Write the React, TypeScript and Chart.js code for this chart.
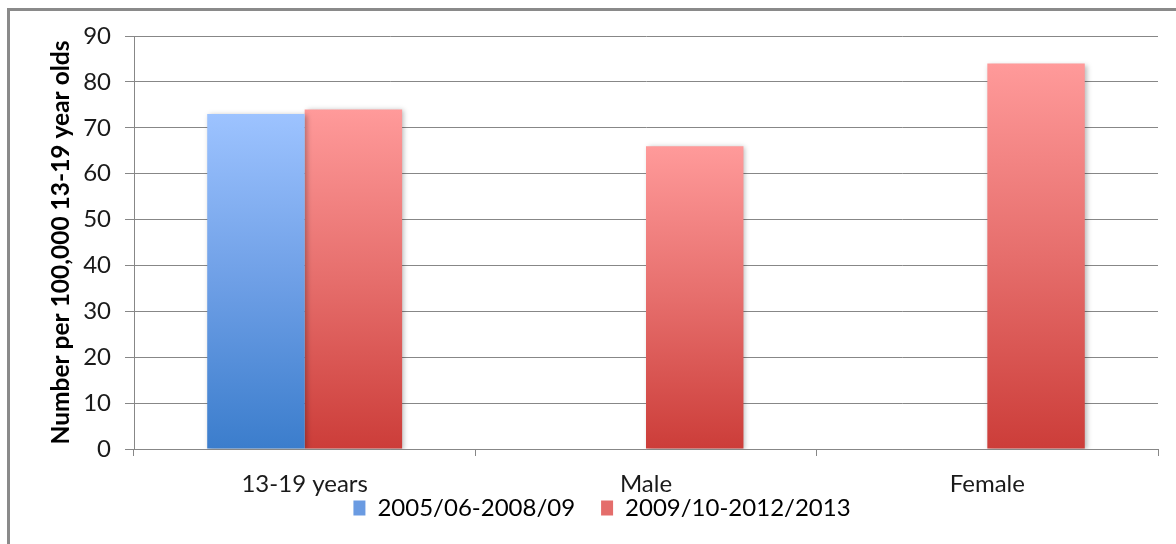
import React, { useEffect, useRef } from "react";
import { Chart, registerables } from "chart.js";

Chart.register(...registerables);

const categories = ["13-19 years", "Male", "Female"];
const seriesNames = ["2005/06-2008/09", "2009/10-2012/2013"];
const series2005 = [73, null, null];
const series2009 = [74, 66, 84];
const yTicks = { min: 0, max: 90, step: 10 };
const yTitle = "Number per 100,000 13-19 year olds";

const FONT = "Lato, 'Open Sans', sans-serif";
const GRID = "#878787";

const blueStops = ["#9dc3ff", "#6e9fe6", "#3b7dcc"];
const redStops = ["#ff9a9a", "#e66e6c", "#cc3d39"];

function barGradient(stops: string[]) {
  return (c: any) => {
    const chart = c.chart;
    if (!chart.chartArea || c.type !== "data" || c.raw == null) return stops[1];
    const y = chart.scales.y;
    const top = y.getPixelForValue(c.raw);
    const bottom = y.getPixelForValue(0);
    const g = chart.ctx.createLinearGradient(0, top, 0, bottom);
    g.addColorStop(0, stops[0]);
    g.addColorStop(0.5, stops[1]);
    g.addColorStop(1, stops[2]);
    return g;
  };
}

const framePlugin = {
  id: "frame",
  beforeDraw(chart: any) {
    const ctx = chart.ctx;
    ctx.save();
    ctx.fillStyle = "#ffffff";
    ctx.fillRect(0, 0, chart.width, chart.height);
    ctx.fillStyle = "#8a8a8a";
    ctx.fillRect(7, 8, chart.width - 7, 3);
    ctx.fillRect(7, 8, 3, chart.height - 8);
    ctx.restore();
  },
};

// Excel places the legend tight under the category labels
const legendPlacePlugin = {
  id: "legendPlace",
  afterLayout(chart: any) {
    const lg = chart.legend;
    const x = chart.scales.x;
    if (!lg || !x) return;
    const h = lg.height;
    lg.top = x.top + 21;
    lg.bottom = lg.top + h;
  },
};

const shadowPlugin = {
  id: "barShadow",
  beforeDatasetsDraw(chart: any) {
    const ctx = chart.ctx;
    ctx.save();
    ctx.shadowColor = "rgba(0,0,0,0.28)";
    ctx.shadowBlur = 5;
    ctx.shadowOffsetX = 2;
    ctx.shadowOffsetY = 1;
  },
  afterDatasetsDraw(chart: any) {
    chart.ctx.restore();
  },
};

export default function App() {
  const ref = useRef<HTMLCanvasElement | null>(null);

  useEffect(() => {
    if (!ref.current) return;
    const chart = new Chart(ref.current, {
      type: "bar",
      data: {
        labels: categories,
        datasets: [
          {
            label: seriesNames[0],
            data: series2005,
            backgroundColor: barGradient(blueStops),
            borderWidth: 0,
            categoryPercentage: 0.571,
            barPercentage: 1,
          },
          {
            label: seriesNames[1],
            data: series2009,
            backgroundColor: barGradient(redStops),
            borderWidth: 0,
            categoryPercentage: 0.571,
            barPercentage: 1,
          },
        ],
      },
      options: {
        responsive: false,
        animation: false,
        layout: { padding: { left: 46, right: 18, top: 36, bottom: -15 } },
        plugins: {
          tooltip: { enabled: false },
          title: { display: false },
          legend: {
            display: true,
            position: "bottom",
            labels: {
              boxWidth: 12,
              boxHeight: 15,
              padding: 26,
              color: "#1a1a1a",
              font: { family: FONT, size: 24 },
              generateLabels: () => [
                { text: seriesNames[0], fillStyle: "#6a9be2", strokeStyle: "rgba(0,0,0,0)", lineWidth: 0, datasetIndex: 0 },
                { text: seriesNames[1], fillStyle: "#e46d6b", strokeStyle: "rgba(0,0,0,0)", lineWidth: 0, datasetIndex: 1 },
              ],
            },
          },
        },
        scales: {
          x: {
            grid: {
              offset: true,
              drawOnChartArea: false,
              drawTicks: true,
              tickLength: 7,
              color: GRID,
            },
            border: { display: true, color: GRID, width: 1 },
            ticks: {
              color: "#1a1a1a",
              font: { family: FONT, size: 24 },
              padding: 14,
            },
            afterFit(scale: any) {
              scale.height = 50;
            },
          },
          y: {
            min: yTicks.min,
            max: yTicks.max,
            ticks: {
              stepSize: yTicks.step,
              color: "#1a1a1a",
              font: { family: FONT, size: 24 },
              padding: 14,
            },
            grid: {
              color: GRID,
              lineWidth: 1,
              tickLength: 9,
              drawTicks: true,
            },
            border: { display: true, color: GRID, width: 1 },
            title: {
              display: true,
              text: yTitle,
              color: "#000000",
              font: { family: FONT, size: 24.5, weight: "bold" },
              padding: { top: 0, bottom: 0 },
            },
            afterFit(scale: any) {
              scale.width = 88;
            },
          },
        },
      },
      plugins: [framePlugin, legendPlacePlugin, shadowPlugin],
    });
    return () => chart.destroy();
  }, []);

  return (
    <div style={{ position: "fixed", left: 0, top: 0, width: 1176, height: 544, background: "#fff" }}>
      <canvas ref={ref} width={1176} height={544} style={{ display: "block" }} />
    </div>
  );
}
